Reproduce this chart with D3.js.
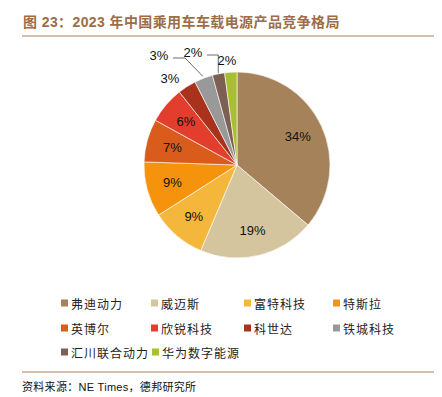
<!DOCTYPE html>
<html lang="zh">
<head>
<meta charset="UTF-8">
<title>2023 年中国乘用车车载电源产品竞争格局</title>
<style>
  body { margin: 0; background: #fff; }
  svg { display: block; }
  .title { font-family: "Liberation Sans", "Noto Sans CJK SC", sans-serif; font-size: 14px; font-weight: bold; fill: #9e6d45; letter-spacing: 0.4px; }
  .pct { font-family: "Liberation Sans", Arial, sans-serif; font-size: 13px; fill: #111; }
  .legend text { font-family: "Noto Sans CJK SC", sans-serif; font-size: 12px; fill: #222; letter-spacing: 1px; }
  .source { font-family: "Liberation Sans", "Noto Sans CJK SC", sans-serif; font-size: 11px; fill: #111; letter-spacing: 0.3px; }
</style>
</head>
<body>
<svg id="chart" width="442" height="397"></svg>
<script src="https://d3js.org/d3.v7.min.js"></script>
<script>
// data
const companies = ["弗迪动力", "威迈斯", "富特科技", "特斯拉", "英博尔", "欣锐科技", "科世达", "铁城科技", "汇川联合动力", "华为数字能源"];
const shares = [34, 19, 9, 9, 7, 6, 3, 3, 2, 2];
const colors = ["#a6825b", "#d5c59e", "#f4b73b", "#f6930c", "#d95c1c", "#e33d2d", "#a8321b", "#999999", "#7e5f53", "#a9bf30"];

const svg = d3.select("#chart");
const cx = 237, cy = 165, r = 93;

// title + rules
svg.append("text").attr("class", "title").attr("x", 23).attr("y", 27)
  .text("图 23：2023 年中国乘用车车载电源产品竞争格局");
svg.append("line").attr("x1", 22).attr("x2", 434).attr("y1", 36).attr("y2", 36)
  .attr("stroke", "#a9825e").attr("stroke-width", 1.2);
svg.append("line").attr("x1", 22).attr("x2", 434).attr("y1", 372).attr("y2", 372)
  .attr("stroke", "#a9825e").attr("stroke-width", 1.2);
svg.append("text").attr("class", "source").attr("x", 22).attr("y", 391)
  .text("资料来源：NE Times，德邦研究所");

const data = companies.map((name, i) => ({ name, value: shares[i], color: colors[i] }));
const pie = d3.pie().sort(null).value(d => d.value);
const arcs = pie(data);
const arc = d3.arc().innerRadius(0).outerRadius(r);

const g = svg.append("g").attr("transform", `translate(${cx},${cy})`);
g.selectAll("path").data(arcs).join("path")
  .attr("d", arc)
  .attr("fill", d => d.data.color)
  .attr("stroke", "#fff").attr("stroke-width", 0.6);

// label placement: big slices inside, small ones outside
const inner = d3.arc().innerRadius(r * 0.72).outerRadius(r * 0.72);
const labelPos = arcs.map((d, i) => {
  const mid = (d.startAngle + d.endAngle) / 2;
  if (i < 6) return { p: inner.centroid(d), line: null };
  // outer labels
  const outer = { 6: [-67, -87], 7: [-78, -110], 8: [-44, -113], 9: [-10, -105] }[i];
  let line = null;
  if (i === 7) {
    const e = [Math.sin(mid) * (r + 2), -Math.cos(mid) * (r + 2)];
    line = [[-64, -107], [-52, -107], e];
  }
  if (i === 8) {
    const e = [Math.sin(mid) * (r + 1), -Math.cos(mid) * (r + 1)];
    line = [[-30, -110], [-23, -110], [e[0], -110], e];
  }
  return { p: outer, line };
});

g.selectAll("path.leader").data(labelPos.filter(d => d.line)).join("path")
  .attr("class", "leader")
  .attr("d", d => d3.line()(d.line))
  .attr("fill", "none").attr("stroke", "#444").attr("stroke-width", 0.8);

g.selectAll("text.pct").data(arcs).join("text")
  .attr("class", "pct")
  .attr("text-anchor", "middle").attr("dominant-baseline", "central")
  .attr("x", (d, i) => labelPos[i].p[0])
  .attr("y", (d, i) => labelPos[i].p[1])
  .text(d => d.data.value + "%");

// legend: 4 columns, items flow right if the previous label is too long
const colX = [61, 151, 244, 333];
const rowY = [303, 328, 352];
const legend = svg.append("g").attr("class", "legend");
let prevEnd = 0;
data.forEach((d, i) => {
  const row = Math.floor(i / 4), col = i % 4;
  if (col === 0) prevEnd = 0;
  const x = Math.max(colX[col], prevEnd + 3);
  const item = legend.append("g").attr("transform", `translate(${x},${rowY[row]})`);
  item.append("rect").attr("x", 0).attr("y", -3.5).attr("width", 7).attr("height", 7).attr("fill", d.color);
  const t = item.append("text").attr("x", 10).attr("y", 0).attr("dominant-baseline", "central").text(d.name);
  prevEnd = x + 10 + t.node().getComputedTextLength();
});
</script>
</body>
</html>
